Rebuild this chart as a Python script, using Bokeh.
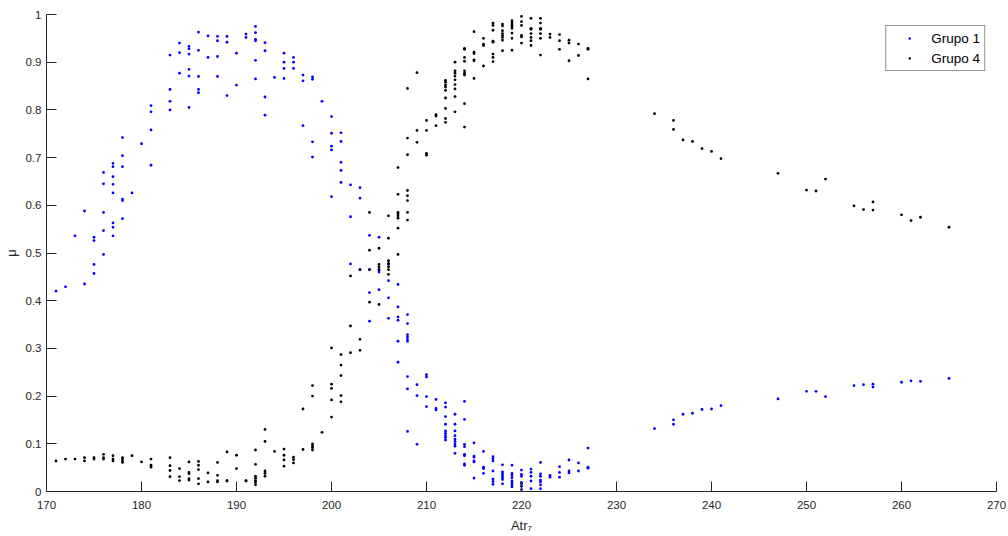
from bokeh.plotting import figure
from bokeh.models import FixedTicker, CustomJSTickFormatter, Legend, LegendItem, Range1d
from bokeh.embed import file_html
from bokeh.resources import INLINE

# ---- Data ----
x_ticks = [170, 180, 190, 200, 210, 220, 230, 240, 250, 260, 270]
y_ticks = [0, 0.1, 0.2, 0.3, 0.4, 0.5, 0.6, 0.7, 0.8, 0.9, 1]

# Grupo 1 (blue): atribute value and the memberships observed at that value
g1_x = [171, 172, 173, 174, 175, 176, 177, 178, 179, 180, 181, 183, 184, 185, 186,
        187, 188, 189, 190, 191, 192, 193, 194, 195, 196, 197, 198, 199, 200, 201,
        202, 203, 204, 205, 206, 207, 208, 209, 210, 211, 212, 213, 214, 215, 216,
        217, 218, 219, 220, 221, 222, 223, 224, 225, 226, 227, 234, 236, 237, 238,
        239, 240, 241, 247, 250, 251, 252, 255, 256, 257, 260, 261, 262, 265]
g1_mu = [
    [0.420], [0.429], [0.536], [0.435, 0.588], [0.457, 0.476, 0.526, 0.533],
    [0.497, 0.547, 0.585, 0.645, 0.669],
    [0.536, 0.554, 0.563, 0.626, 0.644, 0.660, 0.681, 0.688],
    [0.572, 0.610, 0.613, 0.681, 0.704, 0.742], [0.626], [0.729],
    [0.684, 0.758, 0.796, 0.809], [0.800, 0.818, 0.843, 0.915], [0.877, 0.920, 0.940],
    [0.805, 0.871, 0.885, 0.917, 0.928, 0.933], [0.836, 0.843, 0.870, 0.925, 0.963],
    [0.910, 0.955], [0.870, 0.912, 0.945, 0.954], [0.830, 0.942, 0.954], [0.852, 0.919],
    [0.952, 0.959], [0.865, 0.904, 0.945, 0.948, 0.962, 0.975],
    [0.789, 0.827, 0.924, 0.941], [0.868], [0.866, 0.887, 0.900, 0.919],
    [0.887, 0.900, 0.910], [0.767, 0.861, 0.873], [0.701, 0.733, 0.864, 0.869], [0.818],
    [0.618, 0.716, 0.724, 0.751, 0.786], [0.648, 0.673, 0.690, 0.734, 0.752],
    [0.477, 0.576, 0.643], [0.465, 0.615, 0.637], [0.357, 0.417, 0.465, 0.537],
    [0.423, 0.460, 0.465, 0.533], [0.363, 0.406, 0.442, 0.476],
    [0.271, 0.315, 0.359, 0.366, 0.387, 0.434],
    [0.126, 0.215, 0.241, 0.315, 0.319, 0.324, 0.329, 0.352, 0.371],
    [0.099, 0.201, 0.224], [0.178, 0.199, 0.240, 0.245], [0.171, 0.174, 0.193],
    [0.108, 0.113, 0.117, 0.122, 0.127, 0.141, 0.157, 0.177, 0.186],
    [0.080, 0.095, 0.100, 0.105, 0.110, 0.117, 0.127, 0.141, 0.162],
    [0.055, 0.058, 0.075, 0.078, 0.094, 0.099, 0.151, 0.189],
    [0.028, 0.062, 0.064, 0.072, 0.074, 0.102], [0.038, 0.048, 0.051, 0.084],
    [0.015, 0.021, 0.026, 0.043, 0.064, 0.069, 0.073],
    [0.016, 0.025, 0.029, 0.033, 0.037, 0.041, 0.056],
    [0.010, 0.014, 0.018, 0.022, 0.029, 0.034, 0.038, 0.055],
    [0.004, 0.011, 0.016, 0.019, 0.032, 0.036, 0.045],
    [0.006, 0.022, 0.032, 0.040, 0.047],
    [0.006, 0.014, 0.020, 0.024, 0.032, 0.037, 0.061],
    [0.030, 0.034], [0.030, 0.040, 0.052], [0.039, 0.043, 0.066], [0.043, 0.060],
    [0.049, 0.051, 0.091], [0.132], [0.141, 0.150], [0.162], [0.164], [0.172], [0.173],
    [0.180], [0.194], [0.210], [0.210], [0.199], [0.222], [0.224], [0.219, 0.225],
    [0.229], [0.232], [0.231], [0.237],
]

# Grupo 4 (black)
g4_x = [171, 172, 173, 174, 175, 176, 177, 178, 179, 180, 181, 183, 184, 185, 186,
        187, 188, 189, 190, 191, 192, 193, 194, 195, 196, 197, 198, 199, 200, 201,
        202, 203, 204, 205, 206, 207, 208, 209, 210, 211, 212, 213, 214, 215, 216,
        217, 218, 219, 220, 221, 222, 223, 224, 225, 226, 227, 234, 236, 237, 238,
        239, 240, 241, 247, 250, 251, 252, 255, 256, 257, 260, 261, 262, 265]
g4_mu = [
    [0.064], [0.068], [0.068], [0.064, 0.071], [0.068, 0.071], [0.068, 0.071, 0.078],
    [0.064, 0.068, 0.075], [0.061, 0.064, 0.068, 0.071], [0.075], [0.062],
    [0.051, 0.055, 0.068], [0.031, 0.044, 0.054, 0.071], [0.023, 0.031, 0.048],
    [0.024, 0.027, 0.037, 0.040, 0.062], [0.016, 0.027, 0.046, 0.055, 0.063],
    [0.020, 0.039], [0.020, 0.023, 0.034, 0.061], [0.022, 0.023, 0.083], [0.048, 0.076],
    [0.022, 0.023], [0.014, 0.019, 0.023, 0.028, 0.032, 0.057, 0.087],
    [0.032, 0.038, 0.043, 0.105, 0.130], [0.084], [0.053, 0.066, 0.076, 0.089],
    [0.060, 0.067, 0.072], [0.088, 0.173], [0.087, 0.092, 0.096, 0.100, 0.200, 0.222],
    [0.124], [0.156, 0.192, 0.216, 0.225, 0.301], [0.188, 0.201, 0.243, 0.265, 0.287],
    [0.291, 0.347, 0.452], [0.296, 0.319, 0.465], [0.397, 0.465, 0.506, 0.585],
    [0.392, 0.465, 0.471, 0.476, 0.510],
    [0.455, 0.465, 0.471, 0.478, 0.484, 0.531, 0.578],
    [0.497, 0.552, 0.573, 0.578, 0.582, 0.585, 0.623, 0.679],
    [0.569, 0.585, 0.610, 0.620, 0.631, 0.706, 0.741, 0.845],
    [0.732, 0.757, 0.878], [0.705, 0.709, 0.757, 0.778], [0.767, 0.787, 0.790],
    [0.774, 0.782, 0.803, 0.825, 0.841, 0.848, 0.852, 0.858, 0.862],
    [0.796, 0.828, 0.844, 0.853, 0.863, 0.871, 0.877, 0.882, 0.900],
    [0.764, 0.813, 0.873, 0.877, 0.882, 0.902, 0.910, 0.927, 0.929],
    [0.866, 0.903, 0.905, 0.918, 0.921, 0.964], [0.892, 0.935, 0.938, 0.950],
    [0.901, 0.910, 0.917, 0.942, 0.944, 0.967, 0.977, 0.982],
    [0.924, 0.946, 0.952, 0.956, 0.960, 0.966, 0.976, 0.980],
    [0.925, 0.950, 0.961, 0.971, 0.975, 0.979, 0.983, 0.987],
    [0.940, 0.953, 0.956, 0.977, 0.985, 0.996],
    [0.935, 0.945, 0.952, 0.960, 0.969, 0.971, 0.992],
    [0.915, 0.950, 0.960, 0.969, 0.971, 0.982, 0.992],
    [0.952, 0.959], [0.927, 0.945, 0.958], [0.903, 0.940, 0.946], [0.914, 0.938],
    [0.865, 0.927, 0.929], [0.792], [0.759, 0.778], [0.737], [0.734], [0.719], [0.713],
    [0.698], [0.667], [0.632], [0.630], [0.655], [0.599], [0.591], [0.590, 0.607],
    [0.580], [0.568], [0.575], [0.554],
]

series_names = ["Grupo 1", "Grupo 4"]
series_colors = ["#0000ff", "#000000"]
x_label = "Atr₇"
y_label = "μ"


def expand(xs, groups):
    X, Y = [], []
    for x, col in zip(xs, groups):
        for y in col:
            X.append(x)
            Y.append(y)
    return X, Y


x1, y1 = expand(g1_x, g1_mu)
x4, y4 = expand(g4_x, g4_mu)

AX = "#262626"
FONT = "Liberation Sans"

p = figure(width=1008, height=536, x_range=Range1d(170, 270), y_range=Range1d(0, 1),
           output_backend="svg", toolbar_location=None,
           min_border_left=43, min_border_right=12, min_border_top=14, min_border_bottom=45)
p.background_fill_color = "white"
p.border_fill_color = "white"
p.outline_line_color = None
p.grid.visible = False

p.xaxis.ticker = FixedTicker(ticks=x_ticks)
p.yaxis.ticker = FixedTicker(ticks=y_ticks)
p.yaxis.formatter = CustomJSTickFormatter(code="return String(Math.round(tick*10)/10);")

for ax in (p.xaxis[0], p.yaxis[0]):
    ax.major_tick_in = 10
    ax.major_tick_out = 0
    ax.minor_tick_in = 0
    ax.minor_tick_out = 0
    ax.axis_line_color = AX
    ax.axis_line_width = 1
    ax.major_tick_line_color = AX
    ax.major_label_text_font = FONT
    ax.major_label_text_font_size = "11.5px"
    ax.major_label_text_color = AX
    ax.axis_label_text_font = FONT
    ax.axis_label_text_font_size = "13px"
    ax.axis_label_text_font_style = "normal"
    ax.axis_label_text_color = AX

p.xaxis.major_label_standoff = 9
p.yaxis.major_label_standoff = 5
p.xaxis.axis_label = x_label
p.yaxis.axis_label = y_label
p.xaxis.axis_label_standoff = 6
p.yaxis.axis_label_standoff = 4

r1 = p.scatter(x1, y1, size=2.8, marker="circle", fill_color=series_colors[0],
               line_color=None)
r4 = p.scatter(x4, y4, size=2.8, marker="circle", fill_color=series_colors[1],
               line_color=None)

legend = Legend(items=[LegendItem(label=series_names[0], renderers=[r1]),
                       LegendItem(label=series_names[1], renderers=[r4])],
                location="top_right", margin=11, padding=4, spacing=4,
                glyph_width=38, glyph_height=6, label_height=16, label_standoff=3,
                label_text_font=FONT, label_text_font_size="13.5px",
                label_text_color="#000000",
                border_line_color=AX, border_line_width=1,
                background_fill_color="white", background_fill_alpha=1)
p.add_layout(legend)

open("out.html", "w").write(file_html(p, INLINE))
